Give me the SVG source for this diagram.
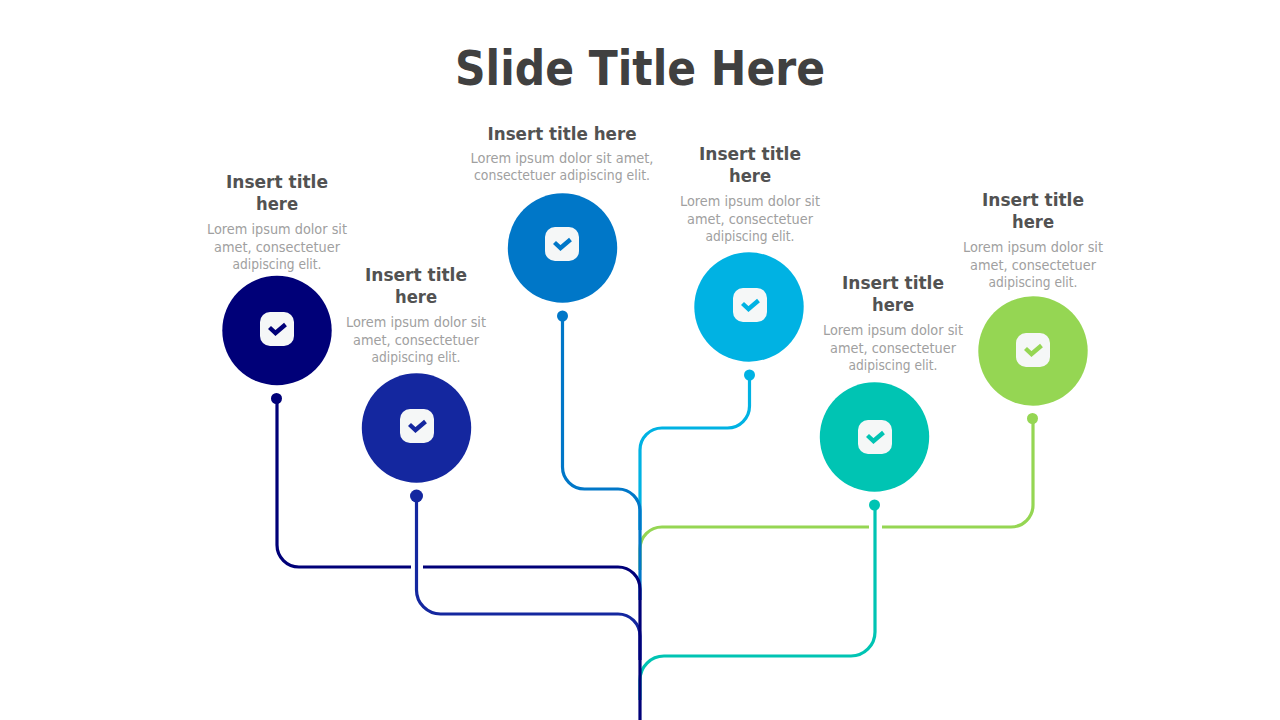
<svg xmlns="http://www.w3.org/2000/svg" width="1280" height="720" viewBox="0 0 1280 720">
<style>
.c{fill:none;stroke-width:3.2}
.t{font-family:"DejaVu Sans",sans-serif;font-weight:700;font-size:18px;fill:#525252;text-anchor:middle}
.b{font-family:"DejaVu Sans",sans-serif;font-size:14px;fill:#a0a0a0;text-anchor:middle}
.box{fill:#f5f7f7}
.k{fill:none;stroke-width:4.4}
</style>
<defs>
<g id="box"><rect class="box" x="-17" y="-17" width="34" height="34" rx="10"/></g>
</defs>
<rect width="1280" height="720" fill="#fff"/>
<text id="title" x="640" y="85" textLength="370" lengthAdjust="spacingAndGlyphs" style="font-family:'DejaVu Sans',sans-serif;font-weight:700;font-size:48px;fill:#404040;text-anchor:middle">Slide Title Here</text>
<g id="connectors">
<path class="c" stroke="#00b2e3" d="M749.500 375V406A22 22 0 0 1 727.500 428H662A22 22 0 0 0 640 450V530"/>
<path class="c" stroke="#95d653" d="M1033 418V505A22 22 0 0 1 1011 527H882M869 527H662A22 22 0 0 0 640 549V570"/>
<path class="c" stroke="#00c4b3" d="M875 505V632A24 24 0 0 1 851 656H664A24 24 0 0 0 640 680V700"/>
<path class="c" stroke="#0077c8" d="M562.500 316V467A22 22 0 0 0 584.500 489H618A22 22 0 0 1 640 511V600"/>
<path class="c" stroke="#14279f" d="M416.500 496V590A24 24 0 0 0 440.500 614H618A22 22 0 0 1 640 636V660"/>
<path class="c" stroke="#000078" d="M277 398V545A22 22 0 0 0 299 567H411M423 567H618A22 22 0 0 1 640 589V720"/>
</g>
<g id="node1">
<circle cx="277" cy="330.500" r="54.700" fill="#000078"/><circle cx="276.500" cy="398.500" r="5.500" fill="#000078"/>
<use href="#box" x="277" y="329"/><path class="k" stroke="#000078" d="M269.500 327.500L275.500 333L285.500 324.500"/>
<text class="t" x="277" y="188" textLength="102" lengthAdjust="spacingAndGlyphs">Insert title</text><text class="t" x="277" y="210" textLength="42" lengthAdjust="spacingAndGlyphs">here</text>
<text class="b" x="277" y="234" textLength="140" lengthAdjust="spacingAndGlyphs">Lorem ipsum dolor sit</text><text class="b" x="277" y="251.500" textLength="126" lengthAdjust="spacingAndGlyphs">amet, consectetuer</text><text class="b" x="277" y="269" textLength="89" lengthAdjust="spacingAndGlyphs">adipiscing elit.</text>
</g>
<g id="node2">
<circle cx="416.500" cy="428" r="54.700" fill="#14279f"/><circle cx="416.500" cy="496" r="6.500" fill="#14279f"/>
<use href="#box" x="417" y="426"/><path class="k" stroke="#14279f" d="M409.500 424.500L415.500 430L425.500 421.500"/>
<text class="t" x="416" y="281" textLength="102" lengthAdjust="spacingAndGlyphs">Insert title</text><text class="t" x="416" y="303" textLength="42" lengthAdjust="spacingAndGlyphs">here</text>
<text class="b" x="416" y="327" textLength="140" lengthAdjust="spacingAndGlyphs">Lorem ipsum dolor sit</text><text class="b" x="416" y="344.500" textLength="126" lengthAdjust="spacingAndGlyphs">amet, consectetuer</text><text class="b" x="416" y="362" textLength="89" lengthAdjust="spacingAndGlyphs">adipiscing elit.</text>
</g>
<g id="node3">
<circle cx="562.500" cy="248" r="54.700" fill="#0077c8"/><circle cx="562.500" cy="316" r="5.500" fill="#0077c8"/>
<use href="#box" x="562" y="244"/><path class="k" stroke="#0077c8" d="M554.500 242.500L560.500 248L570.500 239.500"/>
<text class="t" x="562" y="140" textLength="149" lengthAdjust="spacingAndGlyphs">Insert title here</text>
<text class="b" x="562" y="163" textLength="183" lengthAdjust="spacingAndGlyphs">Lorem ipsum dolor sit amet,</text><text class="b" x="562" y="180" textLength="176" lengthAdjust="spacingAndGlyphs">consectetuer adipiscing elit.</text>
</g>
<g id="node4">
<circle cx="749" cy="307" r="54.700" fill="#00b2e3"/><circle cx="749.500" cy="375" r="5.500" fill="#00b2e3"/>
<use href="#box" x="750" y="305"/><path class="k" stroke="#00b2e3" d="M742.500 303.500L748.500 309L758.500 300.500"/>
<text class="t" x="750" y="160" textLength="102" lengthAdjust="spacingAndGlyphs">Insert title</text><text class="t" x="750" y="182" textLength="42" lengthAdjust="spacingAndGlyphs">here</text>
<text class="b" x="750" y="206" textLength="140" lengthAdjust="spacingAndGlyphs">Lorem ipsum dolor sit</text><text class="b" x="750" y="223.500" textLength="126" lengthAdjust="spacingAndGlyphs">amet, consectetuer</text><text class="b" x="750" y="241" textLength="89" lengthAdjust="spacingAndGlyphs">adipiscing elit.</text>
</g>
<g id="node5">
<circle cx="874.500" cy="437" r="54.700" fill="#00c4b3"/><circle cx="874.500" cy="505" r="5.500" fill="#00c4b3"/>
<use href="#box" x="875" y="437"/><path class="k" stroke="#00c4b3" d="M867.500 435.500L873.500 441L883.500 432.500"/>
<text class="t" x="893" y="289" textLength="102" lengthAdjust="spacingAndGlyphs">Insert title</text><text class="t" x="893" y="311" textLength="42" lengthAdjust="spacingAndGlyphs">here</text>
<text class="b" x="893" y="335" textLength="140" lengthAdjust="spacingAndGlyphs">Lorem ipsum dolor sit</text><text class="b" x="893" y="352.500" textLength="126" lengthAdjust="spacingAndGlyphs">amet, consectetuer</text><text class="b" x="893" y="370" textLength="89" lengthAdjust="spacingAndGlyphs">adipiscing elit.</text>
</g>
<g id="node6">
<circle cx="1033" cy="351" r="54.700" fill="#95d653"/><circle cx="1032.500" cy="418.500" r="5.500" fill="#95d653"/>
<use href="#box" x="1033" y="350"/><path class="k" stroke="#95d653" d="M1025.500 348.500L1031.500 354L1041.500 345.500"/>
<text class="t" x="1033" y="206" textLength="102" lengthAdjust="spacingAndGlyphs">Insert title</text><text class="t" x="1033" y="228" textLength="42" lengthAdjust="spacingAndGlyphs">here</text>
<text class="b" x="1033" y="252" textLength="140" lengthAdjust="spacingAndGlyphs">Lorem ipsum dolor sit</text><text class="b" x="1033" y="269.500" textLength="126" lengthAdjust="spacingAndGlyphs">amet, consectetuer</text><text class="b" x="1033" y="287" textLength="89" lengthAdjust="spacingAndGlyphs">adipiscing elit.</text>
</g>
</svg>
